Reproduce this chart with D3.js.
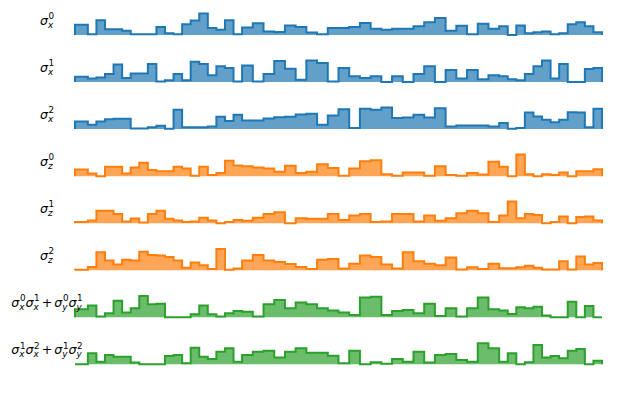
<!DOCTYPE html>
<html><head><meta charset="utf-8">
<script src="https://cdn.jsdelivr.net/npm/d3@7"></script>
<style>body{margin:0;background:#fff}svg{display:block}</style>
</head><body>
<svg id="c" width="640" height="400"></svg>
<script>
// segment durations (x data)
const durations = [1.2,
 0.8,0.8,0.8,0.8,0.8,0.8,0.8,0.8,0.8,0.8,0.8,0.8,0.8,0.8,0.8,0.8,0.8,0.8,
 1,1,1,1,1,1,1,1,1,1,1,1,1,1,1,1,1,1,1,1,1,1,1,1,
 0.8,0.8,0.8,0.8,0.8,0.8,0.8,0.8,0.8,0.8,0.8,0.8];

const sx0 = [0.48,0.03,0.68,0.27,0.27,0.2,0.03,0.03,0.03,0.37,0.08,0.03,0.5,0.67,1.0,0.32,0.24,0.68,0.03,0.35,0.54,0.16,0.14,0.44,0.37,0.11,0.03,
 0.32,0.32,0.37,0.56,0.29,0.24,0.29,0.29,0.4,0.59,0.79,0.2,0.43,0.03,0.52,0.29,0.4,0.0,0.44,0.08,0.13,0.16,0.03,0.08,0.5,0.59,0.4,0.13];
const sx1 = [0.24,0.16,0.21,0.37,0.81,0.19,0.4,0.4,0.84,0.03,0.08,0.37,0.08,0.94,0.84,0.32,0.73,0.65,0.03,0.77,0.03,0.37,0.97,0.61,0.11,1.0,0.88,
 0.03,0.65,0.27,0.19,0.27,0.0,0.27,0.0,0.37,0.73,0.0,0.56,0.16,0.56,0.13,0.32,0.27,0.13,0.08,0.37,0.73,1.0,0.16,0.84,0.0,0.0,0.6,0.65];
const sx2 = [0.35,0.2,0.35,0.46,0.48,0.48,0.03,0.03,0.08,0.15,0.02,0.89,0.09,0.09,0.08,0.12,0.57,0.38,0.66,0.4,0.4,0.49,0.55,0.57,0.68,0.71,0.2,
 0.63,0.92,0.05,0.94,0.89,1.0,0.51,0.54,0.66,0.54,0.97,0.12,0.17,0.17,0.17,0.12,0.28,0.02,0.05,0.77,0.58,0.43,0.32,0.43,0.78,0.77,0.09,0.94];
const sz0 = [0.31,0.12,0.0,0.43,0.43,0.12,0.4,0.62,0.28,0.23,0.23,0.43,0.35,0.02,0.43,0.05,0.15,0.71,0.49,0.46,0.4,0.35,0.2,0.48,0.15,0.2,0.55,
 0.38,0.02,0.35,0.69,0.74,0.09,0.02,0.17,0.17,0.02,0.46,0.05,0.02,0.15,0.08,0.66,0.43,0.0,1.0,0.09,0.0,0.09,0.05,0.17,0.0,0.23,0.23,0.32];
const sz1 = [0.05,0.12,0.58,0.57,0.43,0.08,0.22,0.03,0.43,0.58,0.2,0.12,0.05,0.08,0.25,0.12,0.0,0.05,0.15,0.11,0.25,0.42,0.51,0.0,0.23,0.2,0.2,
 0.43,0.15,0.35,0.43,0.05,0.08,0.43,0.42,0.08,0.35,0.11,0.23,0.46,0.57,0.46,0.05,0.35,1.0,0.23,0.43,0.38,0.0,0.05,0.31,0.0,0.28,0.31,0.12];
const sz2 = [0.02,0.15,0.83,0.45,0.26,0.48,0.45,0.86,0.71,0.68,0.61,0.45,0.11,0.36,0.23,0.06,0.98,0.02,0.08,0.45,0.71,0.45,0.38,0.29,0.15,0.06,0.48,
 0.52,0.08,0.3,0.68,0.61,0.26,0.08,0.83,0.41,0.3,0.23,0.59,0.03,0.14,0.06,0.3,0.09,0.09,0.14,0.21,0.11,0.03,0.03,0.41,0.03,0.64,0.26,0.33];
const xx01 = [0.37,0.54,0.03,0.18,0.77,0.22,0.42,0.98,0.6,0.62,0,0,0,0.14,0.54,0.14,0.03,0.18,0.29,0.26,0.03,0.6,0.8,0.42,0.68,0.6,0.42,
 0.31,0.22,0.11,0.92,0.95,0.11,0.29,0.34,0.18,0.62,0.06,0.42,0.03,0.42,0.92,0.37,0.31,0.15,0.46,0.42,0.49,0.08,0,0,0.72,0,0.52,0];
const xx12 = [0,0.51,0.12,0.43,0.35,0.35,0.08,0,0,0,0.38,0.43,0.05,0.77,0.35,0.25,0.58,0.74,0.12,0.43,0.58,0.63,0.31,0.58,0.74,0.54,0.54,
 0.4,0.05,0.63,0,0.09,0.02,0.25,0.12,0.58,0.08,0.43,0.48,0.2,0.12,0.97,0.74,0.12,0.51,0,0.09,0.89,0.32,0.38,0.28,0.63,0.71,0,0.17];

// labels: list of terms [op, sub, sup]
const labels = [
  [["σ","x","0"]],
  [["σ","x","1"]],
  [["σ","x","2"]],
  [["σ","z","0"]],
  [["σ","z","1"]],
  [["σ","z","2"]],
  [["σ","x","0"],["σ","x","1"],"+",["σ","y","0"],["σ","y","1"]],
  [["σ","x","1"],["σ","x","2"],"+",["σ","y","1"],["σ","y","2"]]
];
const series = [sx0, sx1, sx2, sz0, sz1, sz2, xx01, xx12];
const colors = ["#1f77b4","#1f77b4","#1f77b4","#ff7f0e","#ff7f0e","#ff7f0e","#2ca02c","#2ca02c"];

const svg = d3.select("#c");
const edges = [0];
durations.forEach(d => edges.push(edges[edges.length-1] + d));
const x = d3.scaleLinear().domain([0, edges[edges.length-1]]).range([75, 602]);
const rowY = d3.scalePoint().domain(d3.range(series.length)).range([35, 364.3]);
const y = d3.scaleLinear().domain([0, 1]).range([0, -21.6]);

const FS = 12.6;
const SS = FS * 0.7;
function measure(txt, size, italic) {
  const t = svg.append("text").attr("font-family", "DejaVu Sans").attr("font-size", size)
    .attr("font-style", italic ? "italic" : "normal").text(txt);
  const w = t.node().getComputedTextLength();
  t.remove();
  return w;
}

series.forEach((vals, i) => {
  const g = svg.append("g").attr("transform", `translate(0,${rowY(i)})`);
  const pts = vals.map((v, k) => ({t: edges[k], v}));
  pts.push({t: edges[edges.length-1], v: vals[vals.length-1]});
  const area = d3.area().curve(d3.curveStepAfter).x(d => x(d.t)).y0(y(0)).y1(d => y(d.v));
  g.append("path").attr("d", area(pts)).attr("fill", colors[i]).attr("fill-opacity", 0.7);
  const stepLine = d3.line().curve(d3.curveStepAfter).x(d => x(d.t)).y(d => y(d.v));
  let dStr = stepLine(pts);
  dStr = `M${x(0)},${y(0)}L` + dStr.slice(1) + `L${x(edges[edges.length-1])},${y(0)}`;
  g.append("path").attr("d", dStr).attr("fill", "none").attr("stroke", colors[i])
    .attr("stroke-width", 2).attr("stroke-linejoin", "miter");

  // label as a single text element with tspans (pending offsets carried to next tspan)
  const base = -10.5;
  let total = 0;
  const parts = [];
  labels[i].forEach(term => {
    if (typeof term === "string") {
      const gap = FS * 0.16;
      const w = measure(term, FS, false);
      parts.push({kind: "op", text: term, gap, w});
      total += gap * 2 + w;
    } else {
      const ws = measure(term[0], FS, true);
      const wsub = measure(term[1], SS, true);
      const wsup = measure(term[2], SS, false) + 0.6;
      parts.push({kind: "term", term, ws, wsub, wsup});
      total += ws + Math.max(wsub, wsup);
    }
  });
  const t = g.append("text").attr("font-family", "DejaVu Sans").attr("font-size", FS)
    .attr("x", 47 - total / 2).attr("y", base).attr("fill", "#000");
  let pdx = 0, pdy = 0;
  function span(text, dx, dy, size, italic) {
    const s = t.append("tspan").attr("dx", pdx + dx).attr("dy", pdy + dy).text(text);
    if (size) s.attr("font-size", size);
    if (italic) s.attr("font-style", "italic");
    pdx = 0; pdy = 0;
  }
  parts.forEach(p => {
    if (p.kind === "op") {
      span(p.text, p.gap, 0, null, false);
      pdx += p.gap;
    } else {
      span(p.term[0], 0, 0, null, true);
      span(p.term[2], 0.6, -FS * 0.42, SS, false);
      span(p.term[1], -p.wsup, FS * 0.42 + FS * 0.28, SS, true);
      pdx += Math.max(p.wsub, p.wsup) - p.wsub;
      pdy += -FS * 0.28;
    }
  });
});
</script>
</body></html>
